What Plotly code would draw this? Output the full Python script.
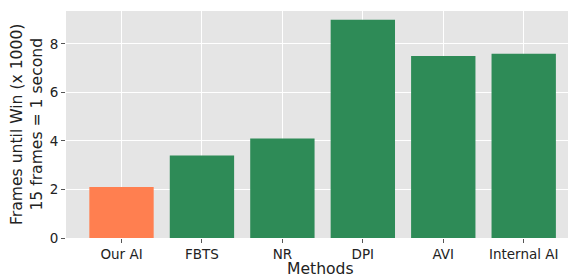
import plotly.graph_objects as go

methods = ["Our AI", "FBTS", "NR", "DPI", "AVI", "Internal AI"]
frames_k = [2.1, 3.4, 4.1, 9.0, 7.5, 7.6]
bar_colors = ["#FF7F50", "#2E8B57", "#2E8B57", "#2E8B57", "#2E8B57", "#2E8B57"]
y_ticks = [0, 2, 4, 6, 8]

fig = go.Figure(go.Bar(x=methods, y=frames_k, marker=dict(color=bar_colors, line=dict(width=0)), width=0.8))

font_family = "DejaVu Sans"
text_color = "#222222"
# page body has an 8px default margin; compensate
OFF = 8
W, H = 576 - OFF, 278 - OFF
L, R, T, B = 66 - OFF, 0, 11 - OFF, 40
pw, ph = W - L - R, H - T - B

fig.update_layout(
    width=W, height=H,
    margin=dict(l=L, r=R, t=T, b=B, autoexpand=False),
    paper_bgcolor="white", plot_bgcolor="#E5E5E5",
    font=dict(family=font_family, size=14, color=text_color),
    showlegend=False,
)
fig.update_xaxes(
    range=[-0.69, 5.65],
    showgrid=True, gridcolor="white", gridwidth=1.2,
    ticks="outside", ticklen=4, tickcolor="#555555", tickwidth=1,
    tickfont=dict(size=13.5, color=text_color),
    automargin=False, zeroline=False, showline=False,
)
fig.update_yaxes(
    range=[0, 9.36],
    tickvals=y_ticks,
    showgrid=True, gridcolor="white", gridwidth=1.2,
    ticks="outside", ticklen=4, tickcolor="#555555", tickwidth=1,
    tickfont=dict(size=13.5, color=text_color),
    automargin=False, zeroline=False, showline=False,
)
fig.add_annotation(
    text="Frames until Win (x 1000)<br>15 frames = 1 second",
    xref="paper", yref="paper", x=(26.5 - OFF - L) / pw, y=0.5,
    xanchor="center", yanchor="middle", textangle=-90, showarrow=False,
    font=dict(size=15.6, color=text_color, family=font_family),
)
fig.add_annotation(
    text="Methods",
    xref="paper", yref="paper", x=(320 - OFF - L) / pw, y=-(269 - OFF - (H - B)) / ph,
    xanchor="center", yanchor="middle", showarrow=False,
    font=dict(size=15.6, color=text_color, family=font_family),
)

fig.write_html("out.html")
